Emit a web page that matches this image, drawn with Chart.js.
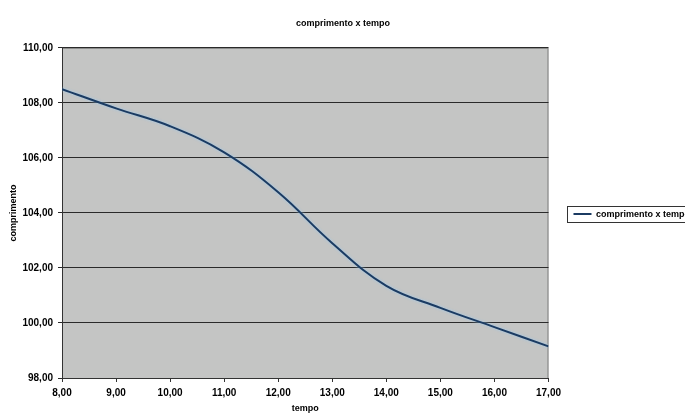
<!DOCTYPE html>
<html>
<head>
<meta charset="utf-8">
<script src="https://cdn.jsdelivr.net/npm/chart.js@4.4.1/dist/chart.umd.min.js"></script>
<style>
	html, body { margin: 0; padding: 0; background: #fff; }
	#wrap { width: 685px; height: 414px; overflow: hidden; }
</style>
</head>
<body>
<div id="wrap"><canvas id="myChart" width="685" height="414"></canvas></div>
<script>
// tempo (x) and comprimento (y)
const tempo = [8, 9, 10, 11, 12, 13, 14, 15, 16, 17];
const comprimento = [108.5, 107.8, 107.15, 106.2, 104.75, 102.9, 101.35, 100.55, 99.85, 99.15];
const yTicks = [98, 100, 102, 104, 106, 108, 110];
const xTicks = [8, 9, 10, 11, 12, 13, 14, 15, 16, 17];

const FONT = 'Arial, "Liberation Sans", sans-serif';
const comma = v => Number(v).toFixed(2).replace('.', ',');

// gray plot area with a thin border, like the old spreadsheet chart
const plotBackground = {
	id: 'plotBackground',
	beforeDraw(chart) {
		const { ctx, chartArea: a } = chart;
		ctx.save();
		ctx.fillStyle = '#c4c5c4';
		ctx.fillRect(a.left, a.top, a.right - a.left, a.bottom - a.top);
		ctx.strokeStyle = '#7f7f7f';
		ctx.lineWidth = 1;
		ctx.strokeRect(a.left + 0.5, a.top + 0.5, a.right - a.left - 1, a.bottom - a.top);
		ctx.restore();
	}
};

// soft blue halo round the line (scan look)
const lineGlow = {
	id: 'lineGlow',
	beforeDatasetDraw(chart) {
		chart.ctx.save();
		chart.ctx.shadowColor = 'rgba(150, 200, 240, 0.9)';
		chart.ctx.shadowBlur = 3;
	},
	afterDatasetDraw(chart) {
		chart.ctx.restore();
	}
};

// frame round the legend entry
const legendFrame = {
	id: 'legendFrame',
	afterDraw(chart) {
		const boxes = chart.legend && chart.legend.legendHitBoxes;
		if (!boxes || !boxes.length) return;
		const b = boxes[0];
		const { ctx } = chart;
		ctx.save();
		ctx.strokeStyle = '#333';
		ctx.lineWidth = 1;
		ctx.strokeRect(Math.round(b.left) - 5.5, Math.round(b.top) - 3.5, b.width + 14, b.height + 7);
		ctx.restore();
	}
};

new Chart(document.getElementById('myChart'), {
	type: 'line',
	data: {
		datasets: [
			{
				label: 'comprimento x tempo',
				data: tempo.map((t, i) => ({ x: t, y: comprimento[i] })),
				borderColor: '#1b3b62',
				backgroundColor: '#1b3b62',
				borderWidth: 2,
				pointRadius: 0,
				tension: 0.4,
				fill: false
			}
		]
	},
	options: {
		responsive: false,
		animation: false,
		layout: { padding: { left: -14, right: -15, top: 0, bottom: 0 } },
		plugins: {
			title: {
				display: true,
				text: 'comprimento x tempo',
				color: '#000',
				font: { family: FONT, size: 9, weight: 'bold' },
				padding: { top: 18, bottom: 19 }
			},
			legend: {
				display: true,
				position: 'right',
				title: { display: true, text: ' ', font: { size: 1 }, padding: { top: 0, bottom: 13 } },
				labels: {
					color: '#000',
					font: { family: FONT, size: 9, weight: 'bold' },
					usePointStyle: true,
					pointStyle: 'line',
					pointStyleWidth: 18,
					padding: 25
				}
			},
			tooltip: { enabled: false }
		},
		scales: {
			x: {
				type: 'linear',
				min: 8,
				max: 17,
				afterBuildTicks: s => { s.ticks = xTicks.map(v => ({ value: v })); },
				afterFit: s => { s.height = 36; },
				grid: { drawOnChartArea: false, drawTicks: true, tickLength: 4, color: '#333' },
				border: { color: '#333', width: 1 },
				ticks: {
					color: '#000',
					padding: 5,
					maxRotation: 0,
					font: { family: FONT, size: 10, weight: 'bold' },
					callback: v => comma(v)
				},
				title: {
					display: true,
					text: 'tempo',
					color: '#000',
					font: { family: FONT, size: 9, weight: 'bold' },
					padding: { top: 0, bottom: 0 }
				}
			},
			y: {
				min: 98,
				max: 110,
				afterBuildTicks: s => { s.ticks = yTicks.map(v => ({ value: v })); },
				afterFit: s => { s.width = 76; },
				grid: { color: '#2a2a2a', lineWidth: 1, tickLength: 4 },
				border: { color: '#333', width: 1 },
				ticks: {
					color: '#000',
					padding: 5,
					font: { family: FONT, size: 10, weight: 'bold' },
					callback: v => comma(v)
				},
				title: {
					display: true,
					text: 'comprimento',
					color: '#000',
					font: { family: FONT, size: 9, weight: 'bold' },
					padding: { top: 22, bottom: 0 }
				}
			}
		}
	},
	plugins: [plotBackground, lineGlow, legendFrame]
});
</script>
</body>
</html>
